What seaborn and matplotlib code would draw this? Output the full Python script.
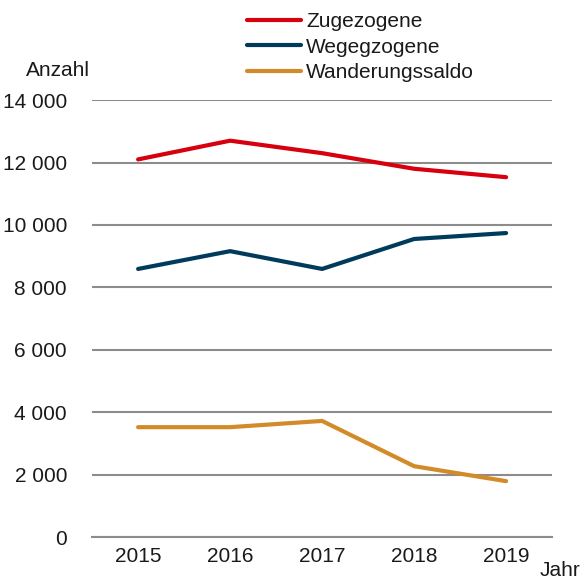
import numpy as np
import pandas as pd
import seaborn as sns
import matplotlib.pyplot as plt
from matplotlib.ticker import FuncFormatter

# values
years = [2015, 2016, 2017, 2018, 2019]
zugezogene = [12100, 12700, 12300, 11800, 11530]
wegegzogene = [8590, 9160, 8590, 9550, 9740]
saldo = [3520, 3520, 3720, 2270, 1790]
series_names = ['Zugezogene', 'Wegegzogene', 'Wanderungssaldo']
colors = ['#D7000F', '#003B5C', '#D38B2A']
y_ticks = [0, 2000, 4000, 6000, 8000, 10000, 12000, 14000]

df = pd.DataFrame({'Jahr': years * 3,
                   'Anzahl': zugezogene + wegegzogene + saldo,
                   'Reihe': np.repeat(series_names, len(years))})

sns.set_style('white')
plt.rcParams['font.family'] = ['Liberation Sans', 'DejaVu Sans']

fig = plt.figure(figsize=(5.83, 5.81), dpi=100)
ax = fig.add_axes([0.158, 0.0757, 0.789, 0.752])

# grid lines
for v in y_ticks:
    ax.axhline(v, color='#8C8C8C', lw=1.5, zorder=1)

sns.lineplot(data=df, x='Jahr', y='Anzahl', hue='Reihe', hue_order=series_names,
             palette=colors, lw=3, ax=ax, zorder=3, legend=True)
for ln in ax.get_lines():
    ln.set_solid_capstyle('round')

ax.set_xlim(2014.5, 2019.5)
ax.set_ylim(0, 14000)
ax.set_xticks(years)
ax.set_xticks([2019.5], minor=True)
ax.set_yticks(y_ticks)
ax.yaxis.set_major_formatter(FuncFormatter(lambda v, p: f'{int(v):,}'.replace(',', ' ')))
for s in ['top', 'right', 'left']:
    ax.spines[s].set_visible(False)
ax.spines['bottom'].set_color('#8C8C8C')
ax.spines['bottom'].set_linewidth(1.5)
ax.tick_params(axis='x', which='both', direction='out', length=4, width=1, color='#8C8C8C',
               labelsize=15, pad=3, labelcolor='#1a1a1a')
ax.tick_params(axis='y', length=0, labelsize=15, pad=18, labelcolor='#1a1a1a')
ax.set_xlabel('')
ax.set_ylabel('')

fig.text(0.045, 0.878, 'Anzahl', fontsize=15, color='#1a1a1a', va='center')
fig.text(0.925, 0.002, 'Jahr', fontsize=15, color='#1a1a1a', va='bottom')

handles, labels = ax.get_legend_handles_labels()
ax.legend(handles, labels, loc='upper left', bbox_to_anchor=(0.402, 1.0),
          bbox_transform=fig.transFigure, frameon=False, fontsize=15,
          handlelength=2.6, handletextpad=0.25, labelspacing=0.3,
          borderaxespad=0.2, labelcolor='#1a1a1a')

fig.savefig('out.png', dpi=100)
